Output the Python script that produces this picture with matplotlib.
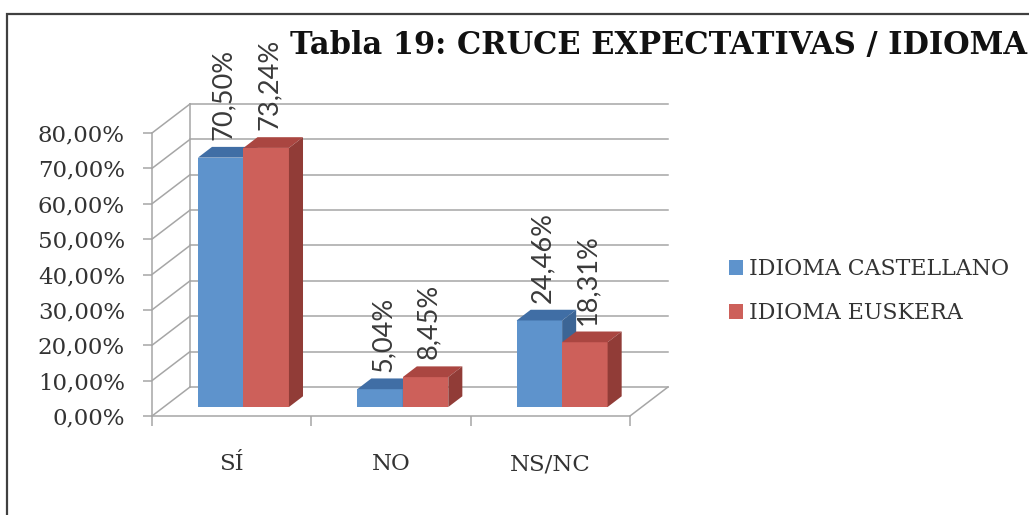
import matplotlib.pyplot as plt
from matplotlib.patches import Polygon, Rectangle, Patch

categories = ['SÍ', 'NO', 'NS/NC']
series_names = ['IDIOMA CASTELLANO', 'IDIOMA EUSKERA']
castellano = [70.50, 5.04, 24.46]
euskera = [73.24, 8.45, 18.31]
yticks = [0, 10, 20, 30, 40, 50, 60, 70, 80]
title = 'Tabla 19: CRUCE EXPECTATIVAS / IDIOMA'

# colours: front, top, side
blue = ('#5E93CC', '#406EA5', '#3C6595')
red = ('#CD605A', '#AA4641', '#913C37')
grid_c = '#A6A6A6'
text_c = '#333333'
serif = 'DejaVu Serif'

W, H = 1029, 515
fig = plt.figure(figsize=(W / 100, H / 100), dpi=100)

# axes = the front plane of the 3d box
ax = fig.add_axes([152 / W, (H - 416) / H, 478 / W, 283 / H])
ax.set_xlim(0, 3)
ax.set_ylim(0, 80)

# oblique depth offset (data units for full depth)
DX = 38 / 478 * 3
DY = 29 / 283 * 80


def proj(x, y, z):
    return (x + z * DX, y + z * DY)


# back wall, left wall, floor
for v in yticks:
    a, b = proj(0, v, 1), proj(3, v, 1)
    ax.plot([a[0], b[0]], [a[1], b[1]], color=grid_c, lw=1.1, clip_on=False, zorder=1)
    c = proj(0, v, 0)
    ax.plot([c[0], a[0]], [c[1], a[1]], color=grid_c, lw=1.1, clip_on=False, zorder=1)
a, b = proj(0, 0, 1), proj(0, yticks[-1], 1)
ax.plot([a[0], b[0]], [a[1], b[1]], color=grid_c, lw=1.1, clip_on=False, zorder=1)
a, b = proj(3, 0, 0), proj(3, 0, 1)
ax.plot([a[0], b[0]], [a[1], b[1]], color=grid_c, lw=1.1, clip_on=False, zorder=1)

# bars
bw = 45.5 / 478 * 3
z0, z1 = 0.31, 0.68
zorder = 3
for i, cat in enumerate(categories):
    xc = i + 0.5
    for j, (vals, cols) in enumerate([(castellano, blue), (euskera, red)]):
        h = vals[i]
        x0 = xc - bw + j * bw
        x1 = x0 + bw
        front = [proj(x0, 0, z0), proj(x1, 0, z0), proj(x1, h, z0), proj(x0, h, z0)]
        top = [proj(x0, h, z0), proj(x1, h, z0), proj(x1, h, z1), proj(x0, h, z1)]
        side = [proj(x1, 0, z0), proj(x1, 0, z1), proj(x1, h, z1), proj(x1, h, z0)]
        for poly, col in [(front, cols[0]), (top, cols[1]), (side, cols[2])]:
            ax.add_patch(Polygon(poly, closed=True, facecolor=col, edgecolor='none',
                                 clip_on=False, zorder=zorder))
        zorder += 1
        lx, ly = xc - bw / 2 + j * bw + 0.39 * DX, h + z1 * DY
        ax.annotate(f'{h:.2f}%'.replace('.', ','), (lx, ly), xytext=(0, 5),
                    textcoords='offset points', rotation=90, ha='center', va='bottom',
                    fontsize=19.5, family='Lato', color='#3a3a3a', zorder=20,
                    annotation_clip=False)

# axes styling
for s in ['top', 'right']:
    ax.spines[s].set_visible(False)
for s in ['left', 'bottom']:
    ax.spines[s].set_color(grid_c)
    ax.spines[s].set_linewidth(1.1)
ax.set_yticks(yticks)
ax.set_yticklabels([f'{v:.2f}%'.replace('.', ',') for v in yticks])
ax.tick_params(axis='y', direction='out', length=6.5, width=1.1, color=grid_c,
               pad=13, labelsize=16.5, labelcolor=text_c)
for t in ax.get_yticklabels():
    t.set_family(serif)
ax.set_xticks([0, 1, 2, 3])
ax.set_xticklabels([])
ax.set_xticks([0.5, 1.5, 2.5], minor=True)
ax.set_xticklabels(categories, minor=True, family=serif)
ax.tick_params(axis='x', which='major', direction='out', length=7, width=1.1, color=grid_c)
ax.tick_params(axis='x', which='minor', length=0, pad=27, labelsize=16.5, labelcolor=text_c)
ax.set_facecolor('none')

# legend
handles = [Patch(facecolor=blue[0], edgecolor='none'), Patch(facecolor=red[0], edgecolor='none')]
fig.legend(handles, series_names, loc='center left', bbox_to_anchor=(729 / W, (H - 291) / H),
           frameon=False, borderpad=0, borderaxespad=0, handlelength=0.65, handleheight=0.65,
           handletextpad=0.25, labelspacing=1.0, prop={'family': serif, 'size': 15.8},
           labelcolor=text_c)

# title
fig.text(290 / W, (H - 54) / H, title, family=serif, fontweight='bold', fontsize=22,
         va='baseline', ha='left', color='#111111')

# chart border (right/bottom edges cut off)
fig.add_artist(Rectangle((7 / W, -0.1), 1.2, (H - 14) / H + 0.1, transform=fig.transFigure,
                         fill=False, edgecolor='#404040', lw=1.6))

fig.savefig('out.png', dpi=100)
